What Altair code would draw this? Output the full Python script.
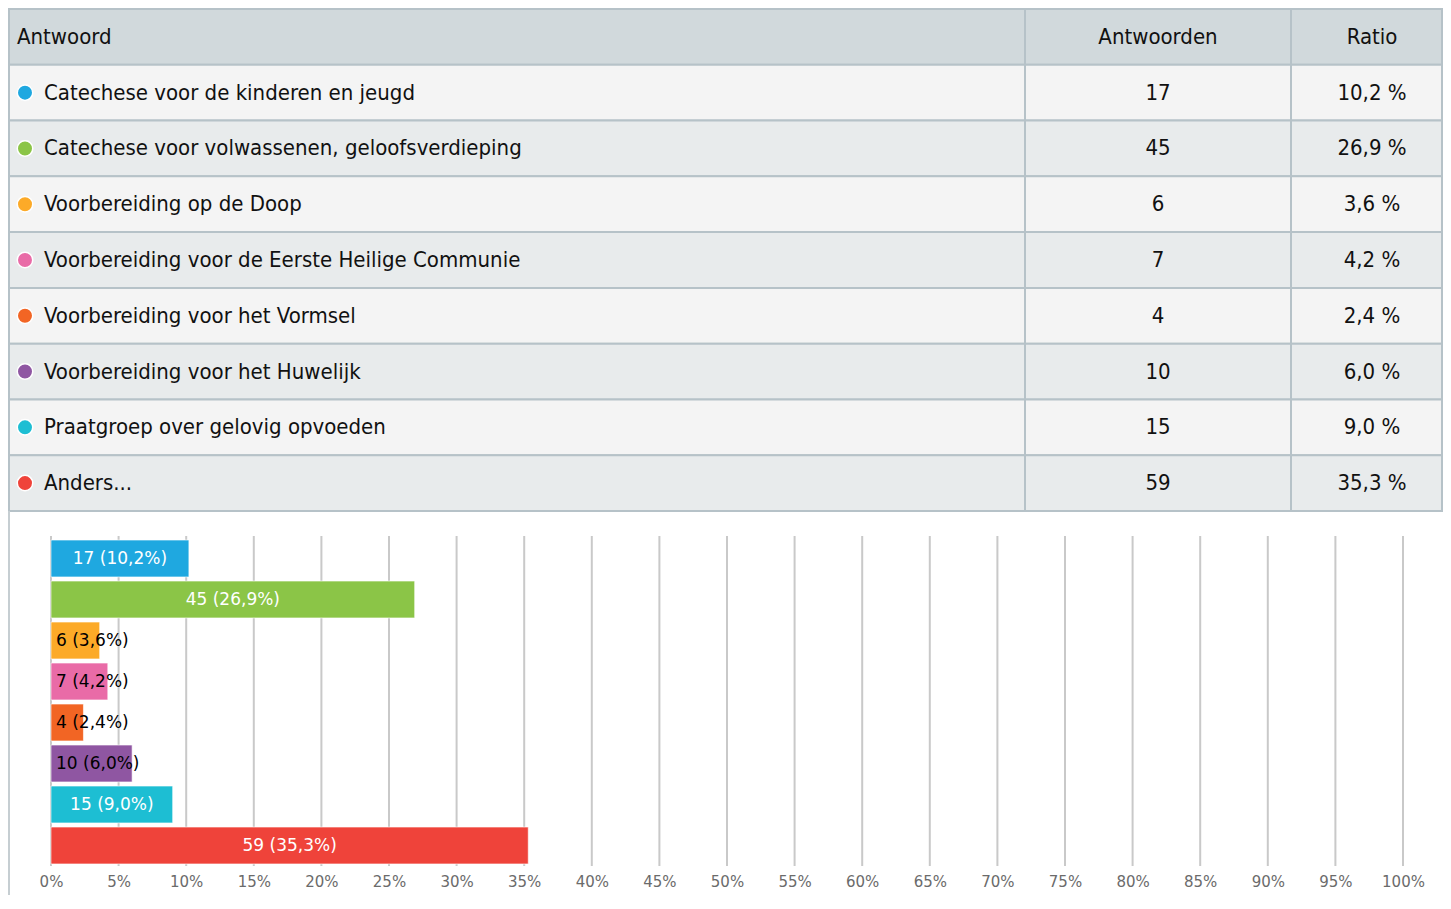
import altair as alt
import pandas as pd

answers = [
    "Catechese voor de kinderen en jeugd",
    "Catechese voor volwassenen, geloofsverdieping",
    "Voorbereiding op de Doop",
    "Voorbereiding voor de Eerste Heilige Communie",
    "Voorbereiding voor het Vormsel",
    "Voorbereiding voor het Huwelijk",
    "Praatgroep over gelovig opvoeden",
    "Anders...",
]
counts = [17, 45, 6, 7, 4, 10, 15, 59]
ratios = [10.2, 26.9, 3.6, 4.2, 2.4, 6.0, 9.0, 35.3]
colors = ["#1fa8e0", "#8bc547", "#fcaa28", "#e96ba7", "#f26524", "#8f56a2", "#1dbed3", "#ef433a"]
headers = ["Antwoord", "Antwoorden", "Ratio"]
tick_values = list(range(0, 101, 5))

TABLE_FONT = "DejaVu Sans Condensed, sans-serif"
CHART_FONT = "DejaVu Sans, sans-serif"

def fmt(v):
    return f"{v:.1f}".replace(".", ",")

row_ids = ["h"] + [f"r{i}" for i in range(len(answers))]
table = pd.DataFrame({
    "row": row_ids,
    "label": headers[:1] + answers,
    "count": [headers[1]] + [str(c) for c in counts],
    "ratio": [headers[2]] + [fmt(r) + " %" for r in ratios],
    "fill": ["#d1d9dc"] + ["#f4f4f4" if i % 2 == 0 else "#e8ebec" for i in range(len(answers))],
})
dots = pd.DataFrame({"row": row_ids[1:], "answer": answers, "color": colors})

yt = alt.Y("row:N", scale=alt.Scale(domain=row_ids, range=[0, 502], paddingInner=0, paddingOuter=0), axis=None)

def cell(x0, x1):
    return alt.Chart(table).mark_rect(stroke="#b6c2c8", strokeWidth=2).encode(
        x=alt.value(x0), x2=alt.value(x1), y=yt, fill=alt.Fill("fill:N", scale=None)
    )

cells = cell(1, 1017) + cell(1017, 1283) + cell(1283, 1434)

txt_label = alt.Chart(table).transform_calculate(
    xpos="datum.row == 'h' ? 9 : 36"
).mark_text(align="left", baseline="middle", font=TABLE_FONT, fontSize=22, color="#111111").encode(
    x=alt.X("xpos:Q", scale=None), y=yt, text="label:N"
)
txt_count = alt.Chart(table).mark_text(align="center", baseline="middle", font=TABLE_FONT, fontSize=22, color="#111111").encode(
    x=alt.value(1150), y=yt, text="count:N"
)
txt_ratio = alt.Chart(table).mark_text(align="center", baseline="middle", font=TABLE_FONT, fontSize=22, color="#111111").encode(
    x=alt.value(1364), y=yt, text="ratio:N"
)
dot = alt.Chart(dots).mark_point(filled=True, shape="circle", size=240, opacity=1, stroke="white", strokeWidth=1.5).encode(
    x=alt.value(17), y=yt, fill=alt.Fill("color:N", scale=None)
)

table_layer = alt.layer(cells, txt_label, txt_count, txt_ratio, dot)

bars_df = pd.DataFrame({
    "answer": answers,
    "count": counts,
    "ratio": ratios,
    "color": colors,
    "text": [f"{c} ({fmt(r)}%)" for c, r in zip(counts, ratios)],
    "inside": [r >= 8 for r in ratios],
})
grid_df = pd.DataFrame({"tick": tick_values})

xs = alt.Scale(domain=[0, 100], range=[43, 1395], nice=False, zero=True)
yb = alt.Y("answer:N", sort=answers,
           scale=alt.Scale(domain=answers, range=[529, 857], paddingInner=0.1, paddingOuter=0.05),
           axis=None)

grid = alt.Chart(grid_df).mark_rule(color="#c9c9c9", strokeWidth=2).encode(
    x=alt.X("tick:Q", scale=xs, axis=alt.Axis(
        values=tick_values, labelExpr="datum.value + '%'", grid=False, domain=False, ticks=False,
        labelFont=CHART_FONT, labelFontSize=15, labelColor="#6b6b6b", labelPadding=8, title=None,
        labelFlush=False)),
    y=alt.value(527), y2=alt.value(857),
)
bars = alt.Chart(bars_df).mark_bar(stroke="white", strokeWidth=1, strokeOpacity=0.6).encode(
    x=alt.X("ratio:Q", scale=xs), x2=alt.datum(0), y=yb, fill=alt.Fill("color:N", scale=None)
)
lab_in = alt.Chart(bars_df).transform_filter("datum.inside").transform_calculate(
    mid="datum.ratio / 2"
).mark_text(align="center", baseline="middle", font=CHART_FONT, fontSize=17, color="white").encode(
    x=alt.X("mid:Q", scale=xs), y=yb, text="text:N"
)
lab_out = alt.Chart(bars_df).transform_filter("!datum.inside").mark_text(
    align="left", baseline="middle", dx=5, font=CHART_FONT, fontSize=17, color="black"
).encode(
    x=alt.datum(0, scale=xs), y=yb, text="text:N"
)
left_line = alt.Chart(grid_df).transform_filter("datum.tick == 0").mark_rule(color="#c6ced2", strokeWidth=2).encode(
    x=alt.value(1), y=alt.value(502), y2=alt.value(886)
)

bar_layer = alt.layer(grid, bars, lab_in, lab_out, left_line)

chart = alt.layer(table_layer, bar_layer).resolve_scale(y="independent").properties(
    width=1434, height=857, padding=0
).configure_view(stroke=None)

chart.save("out.html", embed_options={"renderer": "svg", "actions": False})
